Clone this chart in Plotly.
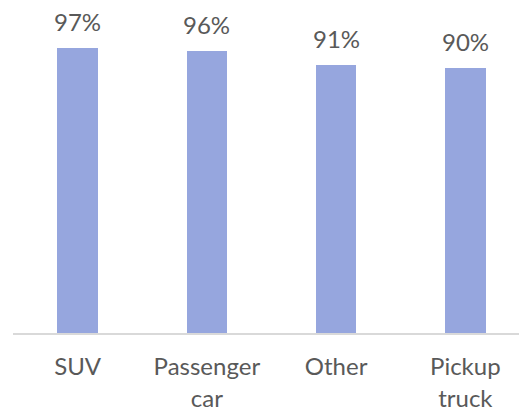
import plotly.graph_objects as go

categories = ["SUV", "Passenger<br>car", "Other", "Pickup<br>truck"]
values = [97, 96, 91, 90]
labels = ["97%", "96%", "91%", "90%"]

BAR = "#96a6de"
TXT = "#595959"
FONT = "Lato"

fig = go.Figure()
fig.add_trace(go.Bar(
    x=categories, y=values, width=0.313,
    marker=dict(color=BAR, line=dict(width=0)),
    hoverinfo="skip",
))

for c, v, t in zip(categories, values, labels):
    fig.add_annotation(x=c, y=v, text=t, showarrow=False,
                       yanchor="bottom", yshift=11, borderpad=0,
                       font=dict(family=FONT, size=24, color=TXT))

fig.update_layout(
    width=523, height=414,
    margin=dict(l=13, r=4, t=39, b=81, autoexpand=False),
    paper_bgcolor="white", plot_bgcolor="white",
    showlegend=False,
    bargap=0,
    xaxis=dict(
        type="category", range=[-0.5, 3.415],
        showline=True, linecolor="#d9d9d9", linewidth=1.5,
        showgrid=False, zeroline=False, ticks="",
        tickfont=dict(family=FONT, size=24, color=TXT),
        ticklabelstandoff=12, automargin=False,
        fixedrange=True,
    ),
    yaxis=dict(range=[0, 100], visible=False, fixedrange=True, automargin=False),
)

fig.write_html("out.html", config={"displayModeBar": False, "staticPlot": True},
               post_script="document.body.style.margin='0';document.body.style.overflow='hidden';")
